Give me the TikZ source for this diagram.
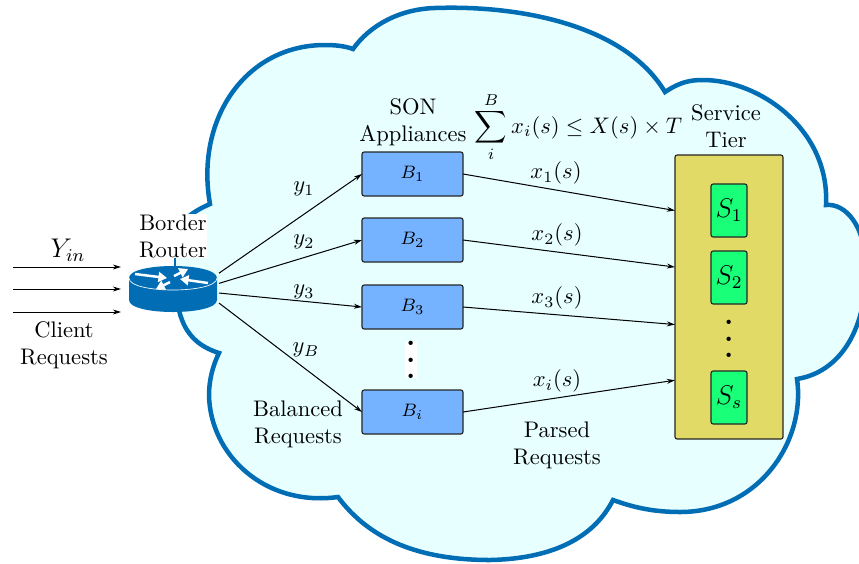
\documentclass[tikz,border=0pt]{standalone}
\usepackage{amsmath}
\usetikzlibrary{positioning,calc,arrows,arrows.meta}

\definecolor{cloudblue}{RGB}{0,109,181}
\definecolor{cloudfill}{RGB}{232,255,255}
\definecolor{sonblue}{RGB}{117,178,255}
\definecolor{tieryellow}{RGB}{226,218,102}
\definecolor{srvgreen}{RGB}{26,255,120}

\newcommand{\threedots}{\vbox{\baselineskip4pt\lineskiplimit0pt\hbox{.}\hbox{.}\hbox{.}}}

\tikzset{
	sonbox/.style={draw=black!85, fill=sonblue, rounded corners=1pt, line width=0.5pt, outer sep=0pt, inner sep=0pt, minimum width=1.576cm, minimum height=0.686cm},
	srvbox/.style={draw=black!85, fill=srvgreen, rounded corners=1pt, line width=0.5pt, outer sep=0pt, inner sep=0pt, minimum width=0.562cm, minimum height=0.827cm},
	tierbox/.style={draw=black!85, fill=tieryellow, rounded corners=1pt, line width=0.5pt, outer sep=0pt, inner sep=0pt, minimum width=1.685cm, minimum height=4.43cm},
	lbl/.style={align=center, inner sep=0.1em},
	rtrarrow/.style={white, line width=1.1pt, -{Triangle[length=3.8pt,width=4.4pt]}},
	flow/.style={-{Stealth[length=3.6pt,width=2.2pt]}, line width=0.45pt}
}

\begin{document}
\begin{tikzpicture}[x=0.0156cm, y=-0.0156cm]
	\useasboundingbox (0,0) rectangle (859,563);

	% cloud
	\begin{scope}
		\clip (0,0) rectangle (859,563);
		\draw [cloudblue, fill=cloudfill, line width=2pt]
			(175,245) .. controls (176,225) and (187,214) .. (210,204)
			.. controls (195,120) and (245,45) .. (325,45)
			.. controls (335,45) and (345,46) .. (353,49)
			.. controls (370,25) and (400,9) .. (435,8)
			.. controls (520,5) and (625,25) .. (665,92)
			.. controls (680,82) and (690,80) .. (703,80)
			.. controls (760,80) and (830,130) .. (826,205)
			.. controls (845,203) and (866,225) .. (866,270)
			.. controls (866,330) and (840,372) .. (797,379)
			.. controls (806,440) and (760,512) .. (680,512)
			.. controls (655,512) and (635,508) .. (613,500)
			.. controls (590,545) and (540,559) .. (490,560)
			.. controls (420,560) and (370,540) .. (338,497)
			.. controls (265,507) and (210,455) .. (209,395)
			.. controls (209,380) and (213,365) .. (219,353)
			.. controls (200,347) and (183,335) .. (178,305)
			-- (175,285);
		\draw [cloudblue, line width=0.6pt] (175,285) -- (175,245);
	\end{scope}

	% router
	\node (rtr) at (173,289) [minimum width=1.435cm, minimum height=0.749cm, inner sep=0pt, outer sep=0pt] {};
	\fill [cloudblue] (129,278) .. controls (129,262) and (217,262) .. (217,278)
		-- (217,300) .. controls (217,316) and (129,316) .. (129,300) -- cycle;
	\draw [white, line width=0.3pt] (129,278) .. controls (129,294) and (217,294) .. (217,278);
	\draw [rtrarrow] (135,274) -- (167,278);
	\draw [rtrarrow] (208,283) -- (180,279);
	\draw [rtrarrow] (174,276) -- (188,269);
	\draw [rtrarrow] (170,282) -- (156,289);

	% texts
	\node [lbl, fill=white, inner sep=0pt] (border) at (173,236) {\textrm{Border}\\\textrm{Router}};
	\node [lbl] (client) at (64,345.5) {\textrm{Client}\\\textrm{Requests}};
	\node [lbl] (yin) at (68,250) {\large $Y_{in}$};
	\node [lbl] (son) at (413,122) {\textrm{SON}\\\textrm{Appliances}};
	\node [lbl] (tiername) at (726,126) {\textrm{Service}\\\textrm{Tier}};
	\node [lbl] (bound) at (578.5,127) {$\displaystyle\sum_{i}^{B} x_i(s) \leq X(s) \times T$};
	\node [lbl] (balanced) at (298,424.5) {\textrm{Balanced}\\\textrm{Requests}};
	\node [lbl] (parsed) at (557,445) {\textrm{Parsed}\\\textrm{Requests}};

	% appliances
	\node [sonbox] (b1) at (412.5,174) {\footnotesize $B_1$};
	\node [sonbox] (b2) at (412.5,240) {\footnotesize $B_2$};
	\node [sonbox] (b3) at (412.5,307) {\footnotesize $B_3$};
	\node [sonbox] (bi) at (412.5,412) {\footnotesize $B_i$};
	\node [lbl, fill=white, inner sep=0pt, scale=1.8] (bdots) at (411,360) {\threedots};

	% service tier
	\node [tierbox] (tier) at (729,297) {};
	\node [srvbox] (s1) at (729,210.5) {\large $S_1$};
	\node [srvbox] (s2) at (729,277.5) {\large $S_2$};
	\node [srvbox] (ss) at (729,397.5) {\large $S_s$};
	\node [lbl, inner sep=0pt, scale=1.8] (sdots) at (729,339) {\threedots};

	% input arrows
	\coordinate (in1) at (13,267);
	\coordinate (in2) at (13,289);
	\coordinate (in3) at (13,312);
	\coordinate (to1) at (121,267);
	\coordinate (to2) at (121,289);
	\coordinate (to3) at (121,312);
	\draw [flow] (in1) -- (to1);
	\draw [flow] (in2) -- (to2);
	\draw [flow] (in3) -- (to3);

	% balanced
	\draw [flow] (rtr.19) -- (b1.west);
	\draw [flow] (rtr.7) -- (b2.west);
	\draw [flow] (rtr.-5) -- (b3.west);
	\draw [flow] (rtr.-17) -- (bi.west);

	% parsed
	\draw [flow] (b1.east) -- (tier.122.4);
	\draw [flow] (b2.east) -- (tier.151.8);
	\draw [flow] (b3.east) -- (tier.207.4);
	\draw [flow] (bi.east) -- (tier.237.6);

	% flow labels
	\node [lbl] (y1) at (304,189) {$y_1$};
	\node [lbl] (y2) at (304,242) {$y_2$};
	\node [lbl] (y3) at (304,292) {$y_3$};
	\node [lbl] (yb) at (306,350) {$y_B$};
	\node [lbl] (x1) at (556,173) {$x_1(s)$};
	\node [lbl] (x2) at (557,235) {$x_2(s)$};
	\node [lbl] (x3) at (557,298) {$x_3(s)$};
	\node [lbl] (xi) at (557,381) {$x_i(s)$};
\end{tikzpicture}
\end{document}
